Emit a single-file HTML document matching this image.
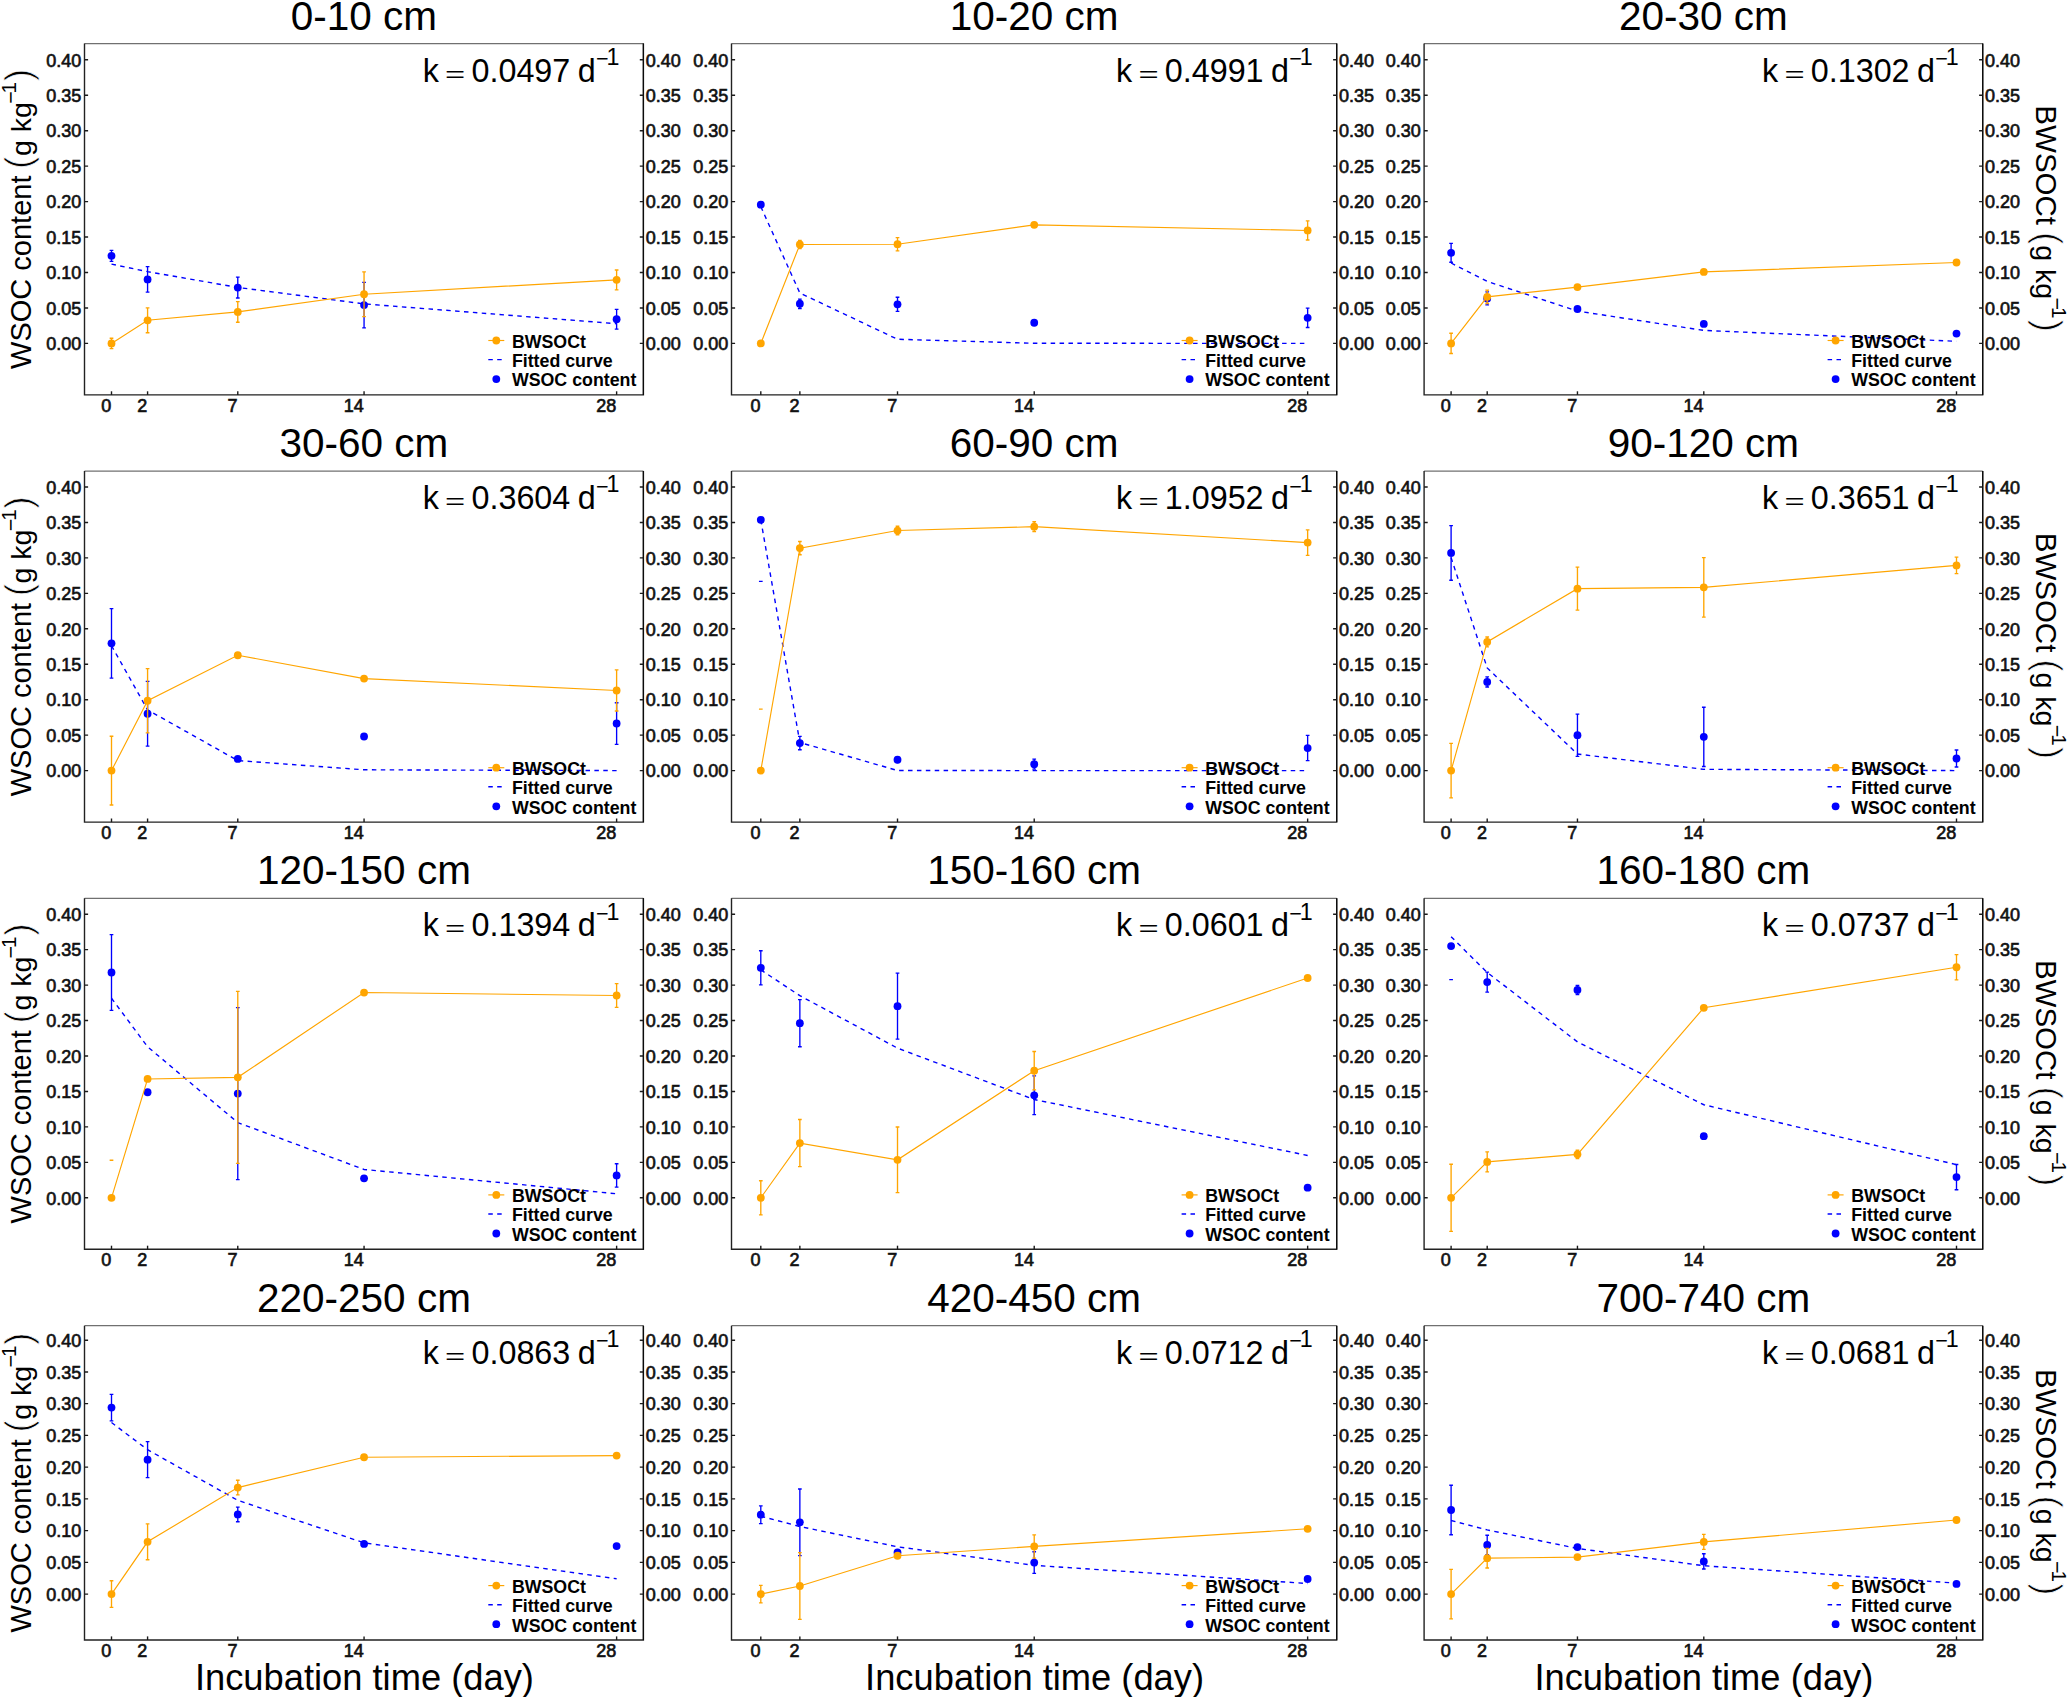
<!DOCTYPE html>
<html><head><meta charset="utf-8"><title>WSOC incubation</title>
<style>
html,body{margin:0;padding:0;background:#fff;}
svg{display:block;}
text{font-family:"Liberation Sans", Arial, sans-serif;fill:#000;}
.ttl{font-size:40.5px;}
.tl{font-size:18px;fill:#111111;stroke:#111111;stroke-width:0.65px;}
.lg{font-size:17.8px;font-weight:bold;}
.kl{font-size:32.3px;}
.ks{font-size:23.3px;}
.km{font-size:21.5px;}
.yt{font-size:29px;}
.yt2{font-size:29.5px;}
.yg{font-size:28.5px;}
.xt{font-size:36.3px;}
.sup{font-size:20.5px;}
.sm{font-size:21.5px;}
.par{font-size:36px;stroke:#fff;stroke-width:0.7px;}
.top{stroke:#707070;stroke-width:1.2;}
.ax{fill:none;stroke:#222;stroke-width:1.4;}
.axr{fill:none;stroke:#0a0a0a;stroke-width:1.2;}
.tk{stroke:#1a1a1a;stroke-width:1.4;fill:none;}
.eb{fill:none;stroke-width:1.35;}
.fit{fill:none;stroke:#0000FF;stroke-width:1.4;stroke-dasharray:4.5 4.4;}
.oln{fill:none;stroke:#FFA500;stroke-width:1.15;}
</style></head>
<body>
<svg width="2067" height="1697" viewBox="0 0 2067 1697">
<defs><clipPath id="cp0"><rect x="84.50" y="43.60" width="558.90" height="351.30"/></clipPath><clipPath id="cp1"><rect x="731.50" y="43.60" width="605.20" height="351.30"/></clipPath><clipPath id="cp2"><rect x="1424.10" y="43.60" width="558.60" height="351.30"/></clipPath><clipPath id="cp3"><rect x="84.50" y="471.10" width="558.90" height="351.00"/></clipPath><clipPath id="cp4"><rect x="731.50" y="471.10" width="605.20" height="351.00"/></clipPath><clipPath id="cp5"><rect x="1424.10" y="471.10" width="558.60" height="351.00"/></clipPath><clipPath id="cp6"><rect x="84.50" y="898.30" width="558.90" height="351.00"/></clipPath><clipPath id="cp7"><rect x="731.50" y="898.30" width="605.20" height="351.00"/></clipPath><clipPath id="cp8"><rect x="1424.10" y="898.30" width="558.60" height="351.00"/></clipPath><clipPath id="cp9"><rect x="84.50" y="1325.70" width="558.90" height="314.30"/></clipPath><clipPath id="cp10"><rect x="731.50" y="1325.70" width="605.20" height="314.30"/></clipPath><clipPath id="cp11"><rect x="1424.10" y="1325.70" width="558.60" height="314.30"/></clipPath></defs>
<rect width="2067" height="1697" fill="#fff"/>
<text x="363.95" y="29.50" class="ttl" text-anchor="middle">0-10 cm</text>
<line x1="84.50" y1="43.60" x2="643.40" y2="43.60" class="top"/>
<path d="M84.50,43.60V394.90H643.40V43.60" class="ax"/>
<path d="M643.40,43.60V394.90" class="axr"/>
<path d="M84.50,343.40h3.6M643.40,343.40h-3.6" class="tk"/>
<text x="81.30" y="350.10" class="tl" text-anchor="end">0.00</text>
<text x="645.80" y="350.10" class="tl">0.00</text>
<path d="M84.50,307.95h3.6M643.40,307.95h-3.6" class="tk"/>
<text x="81.30" y="314.65" class="tl" text-anchor="end">0.05</text>
<text x="645.80" y="314.65" class="tl">0.05</text>
<path d="M84.50,272.50h3.6M643.40,272.50h-3.6" class="tk"/>
<text x="81.30" y="279.20" class="tl" text-anchor="end">0.10</text>
<text x="645.80" y="279.20" class="tl">0.10</text>
<path d="M84.50,237.05h3.6M643.40,237.05h-3.6" class="tk"/>
<text x="81.30" y="243.75" class="tl" text-anchor="end">0.15</text>
<text x="645.80" y="243.75" class="tl">0.15</text>
<path d="M84.50,201.60h3.6M643.40,201.60h-3.6" class="tk"/>
<text x="81.30" y="208.30" class="tl" text-anchor="end">0.20</text>
<text x="645.80" y="208.30" class="tl">0.20</text>
<path d="M84.50,166.15h3.6M643.40,166.15h-3.6" class="tk"/>
<text x="81.30" y="172.85" class="tl" text-anchor="end">0.25</text>
<text x="645.80" y="172.85" class="tl">0.25</text>
<path d="M84.50,130.70h3.6M643.40,130.70h-3.6" class="tk"/>
<text x="81.30" y="137.40" class="tl" text-anchor="end">0.30</text>
<text x="645.80" y="137.40" class="tl">0.30</text>
<path d="M84.50,95.25h3.6M643.40,95.25h-3.6" class="tk"/>
<text x="81.30" y="101.95" class="tl" text-anchor="end">0.35</text>
<text x="645.80" y="101.95" class="tl">0.35</text>
<path d="M84.50,59.80h3.6M643.40,59.80h-3.6" class="tk"/>
<text x="81.30" y="66.50" class="tl" text-anchor="end">0.40</text>
<text x="645.80" y="66.50" class="tl">0.40</text>
<path d="M111.50,394.90v-3.6" class="tk"/>
<text x="111.20" y="411.70" class="tl" text-anchor="end">0</text>
<path d="M147.58,394.90v-3.6" class="tk"/>
<text x="147.28" y="411.70" class="tl" text-anchor="end">2</text>
<path d="M237.78,394.90v-3.6" class="tk"/>
<text x="237.48" y="411.70" class="tl" text-anchor="end">7</text>
<path d="M364.06,394.90v-3.6" class="tk"/>
<text x="363.76" y="411.70" class="tl" text-anchor="end">14</text>
<path d="M616.62,394.90v-3.6" class="tk"/>
<text x="616.32" y="411.70" class="tl" text-anchor="end">28</text>
<text x="422.70" y="81.50" class="kl">k</text>
<text transform="translate(445.10,81.50) scale(1.07,0.71)" class="kl">=</text>
<text x="471.50" y="81.50" class="kl">0.0497</text>
<text x="577.70" y="81.50" class="kl">d</text>
<text x="596.00" y="66.00" class="km">−</text>
<text x="606.50" y="64.80" class="ks">1</text>
<g clip-path="url(#cp0)">
<path d="M109.65,250.38h3.7M111.50,250.38V261.30M109.65,261.30h3.7" stroke="#0000FF" class="eb"/>
<path d="M145.73,266.62h3.7M147.58,266.62V292.14M145.73,292.14h3.7" stroke="#0000FF" class="eb"/>
<path d="M235.93,277.11h3.7M237.78,277.11V297.95M235.93,297.95h3.7" stroke="#0000FF" class="eb"/>
<path d="M362.21,282.43h3.7M364.06,282.43V327.80M362.21,327.80h3.7" stroke="#0000FF" class="eb"/>
<path d="M614.77,309.30h3.7M616.62,309.30V329.15M614.77,329.15h3.7" stroke="#0000FF" class="eb"/>
<circle cx="111.50" cy="255.84" r="3.9" fill="#0000FF"/>
<circle cx="147.58" cy="279.38" r="3.9" fill="#0000FF"/>
<circle cx="237.78" cy="287.53" r="3.9" fill="#0000FF"/>
<circle cx="364.06" cy="305.11" r="3.9" fill="#0000FF"/>
<circle cx="616.62" cy="319.22" r="3.9" fill="#0000FF"/>
<polyline points="111.50,264.13 147.58,271.63 237.78,287.42 364.06,303.87 616.62,323.69" class="fit"/>
<path d="M109.65,338.22h3.7M111.50,338.22V348.58M109.65,348.58h3.7" stroke="#FFA500" class="eb"/>
<path d="M145.73,307.81h3.7M147.58,307.81V332.76M145.73,332.76h3.7" stroke="#FFA500" class="eb"/>
<path d="M235.93,301.64h3.7M237.78,301.64V322.20M235.93,322.20h3.7" stroke="#FFA500" class="eb"/>
<path d="M362.21,271.93h3.7M364.06,271.93V316.60M362.21,316.60h3.7" stroke="#FFA500" class="eb"/>
<path d="M614.77,269.95h3.7M616.62,269.95V289.80M614.77,289.80h3.7" stroke="#FFA500" class="eb"/>
<polyline points="111.50,343.40 147.58,320.29 237.78,311.92 364.06,294.27 616.62,279.87" class="oln"/>
<circle cx="111.50" cy="343.40" r="3.9" fill="#FFA500"/>
<circle cx="147.58" cy="320.29" r="3.9" fill="#FFA500"/>
<circle cx="237.78" cy="311.92" r="3.9" fill="#FFA500"/>
<circle cx="364.06" cy="294.27" r="3.9" fill="#FFA500"/>
<circle cx="616.62" cy="279.87" r="3.9" fill="#FFA500"/>
</g>
<path d="M488.30,340.50h16" stroke="#FFA500" class="oln"/>
<circle cx="496.30" cy="340.50" r="3.9" fill="#FFA500"/>
<path d="M488.30,359.60h16" class="fit"/>
<circle cx="496.30" cy="379.10" r="3.9" fill="#0000FF"/>
<text x="511.90" y="347.60" class="lg">BWSOCt</text>
<text x="511.90" y="366.50" class="lg">Fitted curve</text>
<text x="511.90" y="386.40" class="lg">WSOC content</text>
<text x="1034.10" y="29.50" class="ttl" text-anchor="middle">10-20 cm</text>
<line x1="731.50" y1="43.60" x2="1336.70" y2="43.60" class="top"/>
<path d="M731.50,43.60V394.90H1336.70V43.60" class="ax"/>
<path d="M1336.70,43.60V394.90" class="axr"/>
<path d="M731.50,343.40h3.6M1336.70,343.40h-3.6" class="tk"/>
<text x="728.30" y="350.10" class="tl" text-anchor="end">0.00</text>
<text x="1339.10" y="350.10" class="tl">0.00</text>
<path d="M731.50,307.95h3.6M1336.70,307.95h-3.6" class="tk"/>
<text x="728.30" y="314.65" class="tl" text-anchor="end">0.05</text>
<text x="1339.10" y="314.65" class="tl">0.05</text>
<path d="M731.50,272.50h3.6M1336.70,272.50h-3.6" class="tk"/>
<text x="728.30" y="279.20" class="tl" text-anchor="end">0.10</text>
<text x="1339.10" y="279.20" class="tl">0.10</text>
<path d="M731.50,237.05h3.6M1336.70,237.05h-3.6" class="tk"/>
<text x="728.30" y="243.75" class="tl" text-anchor="end">0.15</text>
<text x="1339.10" y="243.75" class="tl">0.15</text>
<path d="M731.50,201.60h3.6M1336.70,201.60h-3.6" class="tk"/>
<text x="728.30" y="208.30" class="tl" text-anchor="end">0.20</text>
<text x="1339.10" y="208.30" class="tl">0.20</text>
<path d="M731.50,166.15h3.6M1336.70,166.15h-3.6" class="tk"/>
<text x="728.30" y="172.85" class="tl" text-anchor="end">0.25</text>
<text x="1339.10" y="172.85" class="tl">0.25</text>
<path d="M731.50,130.70h3.6M1336.70,130.70h-3.6" class="tk"/>
<text x="728.30" y="137.40" class="tl" text-anchor="end">0.30</text>
<text x="1339.10" y="137.40" class="tl">0.30</text>
<path d="M731.50,95.25h3.6M1336.70,95.25h-3.6" class="tk"/>
<text x="728.30" y="101.95" class="tl" text-anchor="end">0.35</text>
<text x="1339.10" y="101.95" class="tl">0.35</text>
<path d="M731.50,59.80h3.6M1336.70,59.80h-3.6" class="tk"/>
<text x="728.30" y="66.50" class="tl" text-anchor="end">0.40</text>
<text x="1339.10" y="66.50" class="tl">0.40</text>
<path d="M760.80,394.90v-3.6" class="tk"/>
<text x="760.50" y="411.70" class="tl" text-anchor="end">0</text>
<path d="M799.86,394.90v-3.6" class="tk"/>
<text x="799.56" y="411.70" class="tl" text-anchor="end">2</text>
<path d="M897.51,394.90v-3.6" class="tk"/>
<text x="897.21" y="411.70" class="tl" text-anchor="end">7</text>
<path d="M1034.22,394.90v-3.6" class="tk"/>
<text x="1033.92" y="411.70" class="tl" text-anchor="end">14</text>
<path d="M1307.64,394.90v-3.6" class="tk"/>
<text x="1307.34" y="411.70" class="tl" text-anchor="end">28</text>
<text x="1116.00" y="81.50" class="kl">k</text>
<text transform="translate(1138.40,81.50) scale(1.07,0.71)" class="kl">=</text>
<text x="1164.80" y="81.50" class="kl">0.4991</text>
<text x="1271.00" y="81.50" class="kl">d</text>
<text x="1289.30" y="66.00" class="km">−</text>
<text x="1299.80" y="64.80" class="ks">1</text>
<g clip-path="url(#cp1)">
<path d="M758.95,203.23h3.7M760.80,203.23V206.07M758.95,206.07h3.7" stroke="#0000FF" class="eb"/>
<path d="M798.01,299.09h3.7M799.86,299.09V308.45M798.01,308.45h3.7" stroke="#0000FF" class="eb"/>
<path d="M895.66,297.24h3.7M897.51,297.24V311.42M895.66,311.42h3.7" stroke="#0000FF" class="eb"/>
<path d="M1032.37,321.35h3.7M1034.22,321.35V324.19M1032.37,324.19h3.7" stroke="#0000FF" class="eb"/>
<path d="M1305.79,308.16h3.7M1307.64,308.16V327.45M1305.79,327.45h3.7" stroke="#0000FF" class="eb"/>
<circle cx="760.80" cy="204.65" r="3.9" fill="#0000FF"/>
<circle cx="799.86" cy="303.77" r="3.9" fill="#0000FF"/>
<circle cx="897.51" cy="304.33" r="3.9" fill="#0000FF"/>
<circle cx="1034.22" cy="322.77" r="3.9" fill="#0000FF"/>
<circle cx="1307.64" cy="317.81" r="3.9" fill="#0000FF"/>
<polyline points="760.80,206.70 799.86,293.02 897.51,339.25 1034.22,343.27 1307.64,343.40" class="fit"/>
<path d="M798.01,240.52h3.7M799.86,240.52V248.46M798.01,248.46h3.7" stroke="#FFA500" class="eb"/>
<path d="M895.66,237.62h3.7M897.51,237.62V250.80M895.66,250.80h3.7" stroke="#FFA500" class="eb"/>
<path d="M1032.37,223.44h3.7M1034.22,223.44V226.27M1032.37,226.27h3.7" stroke="#FFA500" class="eb"/>
<path d="M1305.79,220.88h3.7M1307.64,220.88V240.03M1305.79,240.03h3.7" stroke="#FFA500" class="eb"/>
<polyline points="760.80,343.40 799.86,244.49 897.51,244.21 1034.22,224.86 1307.64,230.46" class="oln"/>
<circle cx="760.80" cy="343.40" r="3.9" fill="#FFA500"/>
<circle cx="799.86" cy="244.49" r="3.9" fill="#FFA500"/>
<circle cx="897.51" cy="244.21" r="3.9" fill="#FFA500"/>
<circle cx="1034.22" cy="224.86" r="3.9" fill="#FFA500"/>
<circle cx="1307.64" cy="230.46" r="3.9" fill="#FFA500"/>
</g>
<path d="M1181.60,340.50h16" stroke="#FFA500" class="oln"/>
<circle cx="1189.60" cy="340.50" r="3.9" fill="#FFA500"/>
<path d="M1181.60,359.60h16" class="fit"/>
<circle cx="1189.60" cy="379.10" r="3.9" fill="#0000FF"/>
<text x="1205.20" y="347.60" class="lg">BWSOCt</text>
<text x="1205.20" y="366.50" class="lg">Fitted curve</text>
<text x="1205.20" y="386.40" class="lg">WSOC content</text>
<text x="1703.40" y="29.50" class="ttl" text-anchor="middle">20-30 cm</text>
<line x1="1424.10" y1="43.60" x2="1982.70" y2="43.60" class="top"/>
<path d="M1424.10,43.60V394.90H1982.70V43.60" class="ax"/>
<path d="M1982.70,43.60V394.90" class="axr"/>
<path d="M1424.10,343.40h3.6M1982.70,343.40h-3.6" class="tk"/>
<text x="1420.90" y="350.10" class="tl" text-anchor="end">0.00</text>
<text x="1985.10" y="350.10" class="tl">0.00</text>
<path d="M1424.10,307.95h3.6M1982.70,307.95h-3.6" class="tk"/>
<text x="1420.90" y="314.65" class="tl" text-anchor="end">0.05</text>
<text x="1985.10" y="314.65" class="tl">0.05</text>
<path d="M1424.10,272.50h3.6M1982.70,272.50h-3.6" class="tk"/>
<text x="1420.90" y="279.20" class="tl" text-anchor="end">0.10</text>
<text x="1985.10" y="279.20" class="tl">0.10</text>
<path d="M1424.10,237.05h3.6M1982.70,237.05h-3.6" class="tk"/>
<text x="1420.90" y="243.75" class="tl" text-anchor="end">0.15</text>
<text x="1985.10" y="243.75" class="tl">0.15</text>
<path d="M1424.10,201.60h3.6M1982.70,201.60h-3.6" class="tk"/>
<text x="1420.90" y="208.30" class="tl" text-anchor="end">0.20</text>
<text x="1985.10" y="208.30" class="tl">0.20</text>
<path d="M1424.10,166.15h3.6M1982.70,166.15h-3.6" class="tk"/>
<text x="1420.90" y="172.85" class="tl" text-anchor="end">0.25</text>
<text x="1985.10" y="172.85" class="tl">0.25</text>
<path d="M1424.10,130.70h3.6M1982.70,130.70h-3.6" class="tk"/>
<text x="1420.90" y="137.40" class="tl" text-anchor="end">0.30</text>
<text x="1985.10" y="137.40" class="tl">0.30</text>
<path d="M1424.10,95.25h3.6M1982.70,95.25h-3.6" class="tk"/>
<text x="1420.90" y="101.95" class="tl" text-anchor="end">0.35</text>
<text x="1985.10" y="101.95" class="tl">0.35</text>
<path d="M1424.10,59.80h3.6M1982.70,59.80h-3.6" class="tk"/>
<text x="1420.90" y="66.50" class="tl" text-anchor="end">0.40</text>
<text x="1985.10" y="66.50" class="tl">0.40</text>
<path d="M1451.10,394.90v-3.6" class="tk"/>
<text x="1450.80" y="411.70" class="tl" text-anchor="end">0</text>
<path d="M1487.20,394.90v-3.6" class="tk"/>
<text x="1486.90" y="411.70" class="tl" text-anchor="end">2</text>
<path d="M1577.45,394.90v-3.6" class="tk"/>
<text x="1577.15" y="411.70" class="tl" text-anchor="end">7</text>
<path d="M1703.80,394.90v-3.6" class="tk"/>
<text x="1703.50" y="411.70" class="tl" text-anchor="end">14</text>
<path d="M1956.50,394.90v-3.6" class="tk"/>
<text x="1956.20" y="411.70" class="tl" text-anchor="end">28</text>
<text x="1762.00" y="81.50" class="kl">k</text>
<text transform="translate(1784.40,81.50) scale(1.07,0.71)" class="kl">=</text>
<text x="1810.80" y="81.50" class="kl">0.1302</text>
<text x="1917.00" y="81.50" class="kl">d</text>
<text x="1935.30" y="66.00" class="km">−</text>
<text x="1945.80" y="64.80" class="ks">1</text>
<g clip-path="url(#cp2)">
<path d="M1449.25,243.36h3.7M1451.10,243.36V262.22M1449.25,262.22h3.7" stroke="#0000FF" class="eb"/>
<path d="M1485.35,291.86h3.7M1487.20,291.86V304.90M1485.35,304.90h3.7" stroke="#0000FF" class="eb"/>
<path d="M1575.60,307.60h3.7M1577.45,307.60V310.43M1575.60,310.43h3.7" stroke="#0000FF" class="eb"/>
<path d="M1701.95,322.48h3.7M1703.80,322.48V325.32M1701.95,325.32h3.7" stroke="#0000FF" class="eb"/>
<path d="M1954.65,332.20h3.7M1956.50,332.20V335.03M1954.65,335.03h3.7" stroke="#0000FF" class="eb"/>
<circle cx="1451.10" cy="252.79" r="3.9" fill="#0000FF"/>
<circle cx="1487.20" cy="298.38" r="3.9" fill="#0000FF"/>
<circle cx="1577.45" cy="309.01" r="3.9" fill="#0000FF"/>
<circle cx="1703.80" cy="323.90" r="3.9" fill="#0000FF"/>
<circle cx="1956.50" cy="333.62" r="3.9" fill="#0000FF"/>
<polyline points="1451.10,263.00 1487.20,281.43 1577.45,311.08 1703.80,330.41 1956.50,341.30" class="fit"/>
<path d="M1449.25,333.26h3.7M1451.10,333.26V353.54M1449.25,353.54h3.7" stroke="#FFA500" class="eb"/>
<path d="M1485.35,290.15h3.7M1487.20,290.15V303.48M1485.35,303.48h3.7" stroke="#FFA500" class="eb"/>
<path d="M1575.60,285.69h3.7M1577.45,285.69V288.52M1575.60,288.52h3.7" stroke="#FFA500" class="eb"/>
<path d="M1701.95,270.51h3.7M1703.80,270.51V273.35M1701.95,273.35h3.7" stroke="#FFA500" class="eb"/>
<path d="M1954.65,261.09h3.7M1956.50,261.09V263.92M1954.65,263.92h3.7" stroke="#FFA500" class="eb"/>
<polyline points="1451.10,343.40 1487.20,296.82 1577.45,287.11 1703.80,271.93 1956.50,262.50" class="oln"/>
<circle cx="1451.10" cy="343.40" r="3.9" fill="#FFA500"/>
<circle cx="1487.20" cy="296.82" r="3.9" fill="#FFA500"/>
<circle cx="1577.45" cy="287.11" r="3.9" fill="#FFA500"/>
<circle cx="1703.80" cy="271.93" r="3.9" fill="#FFA500"/>
<circle cx="1956.50" cy="262.50" r="3.9" fill="#FFA500"/>
</g>
<path d="M1827.60,340.50h16" stroke="#FFA500" class="oln"/>
<circle cx="1835.60" cy="340.50" r="3.9" fill="#FFA500"/>
<path d="M1827.60,359.60h16" class="fit"/>
<circle cx="1835.60" cy="379.10" r="3.9" fill="#0000FF"/>
<text x="1851.20" y="347.60" class="lg">BWSOCt</text>
<text x="1851.20" y="366.50" class="lg">Fitted curve</text>
<text x="1851.20" y="386.40" class="lg">WSOC content</text>
<text x="363.95" y="457.00" class="ttl" text-anchor="middle">30-60 cm</text>
<line x1="84.50" y1="471.10" x2="643.40" y2="471.10" class="top"/>
<path d="M84.50,471.10V822.10H643.40V471.10" class="ax"/>
<path d="M643.40,471.10V822.10" class="axr"/>
<path d="M84.50,770.60h3.6M643.40,770.60h-3.6" class="tk"/>
<text x="81.30" y="777.30" class="tl" text-anchor="end">0.00</text>
<text x="645.80" y="777.30" class="tl">0.00</text>
<path d="M84.50,735.15h3.6M643.40,735.15h-3.6" class="tk"/>
<text x="81.30" y="741.85" class="tl" text-anchor="end">0.05</text>
<text x="645.80" y="741.85" class="tl">0.05</text>
<path d="M84.50,699.70h3.6M643.40,699.70h-3.6" class="tk"/>
<text x="81.30" y="706.40" class="tl" text-anchor="end">0.10</text>
<text x="645.80" y="706.40" class="tl">0.10</text>
<path d="M84.50,664.25h3.6M643.40,664.25h-3.6" class="tk"/>
<text x="81.30" y="670.95" class="tl" text-anchor="end">0.15</text>
<text x="645.80" y="670.95" class="tl">0.15</text>
<path d="M84.50,628.80h3.6M643.40,628.80h-3.6" class="tk"/>
<text x="81.30" y="635.50" class="tl" text-anchor="end">0.20</text>
<text x="645.80" y="635.50" class="tl">0.20</text>
<path d="M84.50,593.35h3.6M643.40,593.35h-3.6" class="tk"/>
<text x="81.30" y="600.05" class="tl" text-anchor="end">0.25</text>
<text x="645.80" y="600.05" class="tl">0.25</text>
<path d="M84.50,557.90h3.6M643.40,557.90h-3.6" class="tk"/>
<text x="81.30" y="564.60" class="tl" text-anchor="end">0.30</text>
<text x="645.80" y="564.60" class="tl">0.30</text>
<path d="M84.50,522.45h3.6M643.40,522.45h-3.6" class="tk"/>
<text x="81.30" y="529.15" class="tl" text-anchor="end">0.35</text>
<text x="645.80" y="529.15" class="tl">0.35</text>
<path d="M84.50,487.00h3.6M643.40,487.00h-3.6" class="tk"/>
<text x="81.30" y="493.70" class="tl" text-anchor="end">0.40</text>
<text x="645.80" y="493.70" class="tl">0.40</text>
<path d="M111.50,822.10v-3.6" class="tk"/>
<text x="111.20" y="838.90" class="tl" text-anchor="end">0</text>
<path d="M147.58,822.10v-3.6" class="tk"/>
<text x="147.28" y="838.90" class="tl" text-anchor="end">2</text>
<path d="M237.78,822.10v-3.6" class="tk"/>
<text x="237.48" y="838.90" class="tl" text-anchor="end">7</text>
<path d="M364.06,822.10v-3.6" class="tk"/>
<text x="363.76" y="838.90" class="tl" text-anchor="end">14</text>
<path d="M616.62,822.10v-3.6" class="tk"/>
<text x="616.32" y="838.90" class="tl" text-anchor="end">28</text>
<text x="422.70" y="509.00" class="kl">k</text>
<text transform="translate(445.10,509.00) scale(1.07,0.71)" class="kl">=</text>
<text x="471.50" y="509.00" class="kl">0.3604</text>
<text x="577.70" y="509.00" class="kl">d</text>
<text x="596.00" y="493.50" class="km">−</text>
<text x="606.50" y="492.30" class="ks">1</text>
<g clip-path="url(#cp3)">
<path d="M109.65,608.59h3.7M111.50,608.59V678.08M109.65,678.08h3.7" stroke="#0000FF" class="eb"/>
<path d="M145.73,681.34h3.7M147.58,681.34V746.14M145.73,746.14h3.7" stroke="#0000FF" class="eb"/>
<path d="M235.93,757.55h3.7M237.78,757.55V760.39M235.93,760.39h3.7" stroke="#0000FF" class="eb"/>
<path d="M362.21,735.08h3.7M364.06,735.08V737.92M362.21,737.92h3.7" stroke="#0000FF" class="eb"/>
<path d="M614.77,702.75h3.7M616.62,702.75V744.30M614.77,744.30h3.7" stroke="#0000FF" class="eb"/>
<circle cx="111.50" cy="643.33" r="3.9" fill="#0000FF"/>
<circle cx="147.58" cy="713.74" r="3.9" fill="#0000FF"/>
<circle cx="237.78" cy="758.97" r="3.9" fill="#0000FF"/>
<circle cx="364.06" cy="736.50" r="3.9" fill="#0000FF"/>
<circle cx="616.62" cy="723.52" r="3.9" fill="#0000FF"/>
<polyline points="111.50,645.75 147.58,709.88 237.78,760.58 364.06,769.80 616.62,770.59" class="fit"/>
<path d="M109.65,736.21h3.7M111.50,736.21V804.99M109.65,804.99h3.7" stroke="#FFA500" class="eb"/>
<path d="M145.73,668.65h3.7M147.58,668.65V732.88M145.73,732.88h3.7" stroke="#FFA500" class="eb"/>
<path d="M235.93,653.83h3.7M237.78,653.83V656.66M235.93,656.66h3.7" stroke="#FFA500" class="eb"/>
<path d="M362.21,677.15h3.7M364.06,677.15V679.99M362.21,679.99h3.7" stroke="#FFA500" class="eb"/>
<path d="M614.77,669.92h3.7M616.62,669.92V711.04M614.77,711.04h3.7" stroke="#FFA500" class="eb"/>
<polyline points="111.50,770.60 147.58,700.76 237.78,655.25 364.06,678.57 616.62,690.48" class="oln"/>
<circle cx="111.50" cy="770.60" r="3.9" fill="#FFA500"/>
<circle cx="147.58" cy="700.76" r="3.9" fill="#FFA500"/>
<circle cx="237.78" cy="655.25" r="3.9" fill="#FFA500"/>
<circle cx="364.06" cy="678.57" r="3.9" fill="#FFA500"/>
<circle cx="616.62" cy="690.48" r="3.9" fill="#FFA500"/>
</g>
<path d="M488.30,767.70h16" stroke="#FFA500" class="oln"/>
<circle cx="496.30" cy="767.70" r="3.9" fill="#FFA500"/>
<path d="M488.30,786.80h16" class="fit"/>
<circle cx="496.30" cy="806.30" r="3.9" fill="#0000FF"/>
<text x="511.90" y="774.80" class="lg">BWSOCt</text>
<text x="511.90" y="793.70" class="lg">Fitted curve</text>
<text x="511.90" y="813.60" class="lg">WSOC content</text>
<text x="1034.10" y="457.00" class="ttl" text-anchor="middle">60-90 cm</text>
<line x1="731.50" y1="471.10" x2="1336.70" y2="471.10" class="top"/>
<path d="M731.50,471.10V822.10H1336.70V471.10" class="ax"/>
<path d="M1336.70,471.10V822.10" class="axr"/>
<path d="M731.50,770.60h3.6M1336.70,770.60h-3.6" class="tk"/>
<text x="728.30" y="777.30" class="tl" text-anchor="end">0.00</text>
<text x="1339.10" y="777.30" class="tl">0.00</text>
<path d="M731.50,735.15h3.6M1336.70,735.15h-3.6" class="tk"/>
<text x="728.30" y="741.85" class="tl" text-anchor="end">0.05</text>
<text x="1339.10" y="741.85" class="tl">0.05</text>
<path d="M731.50,699.70h3.6M1336.70,699.70h-3.6" class="tk"/>
<text x="728.30" y="706.40" class="tl" text-anchor="end">0.10</text>
<text x="1339.10" y="706.40" class="tl">0.10</text>
<path d="M731.50,664.25h3.6M1336.70,664.25h-3.6" class="tk"/>
<text x="728.30" y="670.95" class="tl" text-anchor="end">0.15</text>
<text x="1339.10" y="670.95" class="tl">0.15</text>
<path d="M731.50,628.80h3.6M1336.70,628.80h-3.6" class="tk"/>
<text x="728.30" y="635.50" class="tl" text-anchor="end">0.20</text>
<text x="1339.10" y="635.50" class="tl">0.20</text>
<path d="M731.50,593.35h3.6M1336.70,593.35h-3.6" class="tk"/>
<text x="728.30" y="600.05" class="tl" text-anchor="end">0.25</text>
<text x="1339.10" y="600.05" class="tl">0.25</text>
<path d="M731.50,557.90h3.6M1336.70,557.90h-3.6" class="tk"/>
<text x="728.30" y="564.60" class="tl" text-anchor="end">0.30</text>
<text x="1339.10" y="564.60" class="tl">0.30</text>
<path d="M731.50,522.45h3.6M1336.70,522.45h-3.6" class="tk"/>
<text x="728.30" y="529.15" class="tl" text-anchor="end">0.35</text>
<text x="1339.10" y="529.15" class="tl">0.35</text>
<path d="M731.50,487.00h3.6M1336.70,487.00h-3.6" class="tk"/>
<text x="728.30" y="493.70" class="tl" text-anchor="end">0.40</text>
<text x="1339.10" y="493.70" class="tl">0.40</text>
<path d="M760.80,822.10v-3.6" class="tk"/>
<text x="760.50" y="838.90" class="tl" text-anchor="end">0</text>
<path d="M799.86,822.10v-3.6" class="tk"/>
<text x="799.56" y="838.90" class="tl" text-anchor="end">2</text>
<path d="M897.51,822.10v-3.6" class="tk"/>
<text x="897.21" y="838.90" class="tl" text-anchor="end">7</text>
<path d="M1034.22,822.10v-3.6" class="tk"/>
<text x="1033.92" y="838.90" class="tl" text-anchor="end">14</text>
<path d="M1307.64,822.10v-3.6" class="tk"/>
<text x="1307.34" y="838.90" class="tl" text-anchor="end">28</text>
<text x="1116.00" y="509.00" class="kl">k</text>
<text transform="translate(1138.40,509.00) scale(1.07,0.71)" class="kl">=</text>
<text x="1164.80" y="509.00" class="kl">1.0952</text>
<text x="1271.00" y="509.00" class="kl">d</text>
<text x="1289.30" y="493.50" class="km">−</text>
<text x="1299.80" y="492.30" class="ks">1</text>
<g clip-path="url(#cp4)">
<path d="M758.95,518.41h3.7M760.80,518.41V521.24M758.95,521.24h3.7" stroke="#0000FF" class="eb"/>
<path d="M798.01,736.43h3.7M799.86,736.43V749.76M798.01,749.76h3.7" stroke="#0000FF" class="eb"/>
<path d="M895.66,756.92h3.7M897.51,756.92V762.59M895.66,762.59h3.7" stroke="#0000FF" class="eb"/>
<path d="M1032.37,759.19h3.7M1034.22,759.19V769.11M1032.37,769.11h3.7" stroke="#0000FF" class="eb"/>
<path d="M1305.79,735.43h3.7M1307.64,735.43V760.67M1305.79,760.67h3.7" stroke="#0000FF" class="eb"/>
<path d="M758.95,581.44h3.7" stroke="#0000FF" class="eb"/>
<circle cx="760.80" cy="519.83" r="3.9" fill="#0000FF"/>
<circle cx="799.86" cy="743.09" r="3.9" fill="#0000FF"/>
<circle cx="897.51" cy="759.75" r="3.9" fill="#0000FF"/>
<circle cx="1034.22" cy="764.15" r="3.9" fill="#0000FF"/>
<circle cx="1307.64" cy="748.05" r="3.9" fill="#0000FF"/>
<polyline points="760.80,519.83 799.86,742.55 897.51,770.48 1034.22,770.60 1307.64,770.60" class="fit"/>
<path d="M798.01,541.52h3.7M799.86,541.52V554.71M798.01,554.71h3.7" stroke="#FFA500" class="eb"/>
<path d="M895.66,526.28h3.7M897.51,526.28V534.79M895.66,534.79h3.7" stroke="#FFA500" class="eb"/>
<path d="M1032.37,521.74h3.7M1034.22,521.74V531.67M1032.37,531.67h3.7" stroke="#FFA500" class="eb"/>
<path d="M1305.79,529.82h3.7M1307.64,529.82V555.35M1305.79,555.35h3.7" stroke="#FFA500" class="eb"/>
<path d="M758.95,709.06h3.7" stroke="#FFA500" class="eb"/>
<polyline points="760.80,770.60 799.86,548.12 897.51,530.53 1034.22,526.70 1307.64,542.59" class="oln"/>
<circle cx="760.80" cy="770.60" r="3.9" fill="#FFA500"/>
<circle cx="799.86" cy="548.12" r="3.9" fill="#FFA500"/>
<circle cx="897.51" cy="530.53" r="3.9" fill="#FFA500"/>
<circle cx="1034.22" cy="526.70" r="3.9" fill="#FFA500"/>
<circle cx="1307.64" cy="542.59" r="3.9" fill="#FFA500"/>
</g>
<path d="M1181.60,767.70h16" stroke="#FFA500" class="oln"/>
<circle cx="1189.60" cy="767.70" r="3.9" fill="#FFA500"/>
<path d="M1181.60,786.80h16" class="fit"/>
<circle cx="1189.60" cy="806.30" r="3.9" fill="#0000FF"/>
<text x="1205.20" y="774.80" class="lg">BWSOCt</text>
<text x="1205.20" y="793.70" class="lg">Fitted curve</text>
<text x="1205.20" y="813.60" class="lg">WSOC content</text>
<text x="1703.40" y="457.00" class="ttl" text-anchor="middle">90-120 cm</text>
<line x1="1424.10" y1="471.10" x2="1982.70" y2="471.10" class="top"/>
<path d="M1424.10,471.10V822.10H1982.70V471.10" class="ax"/>
<path d="M1982.70,471.10V822.10" class="axr"/>
<path d="M1424.10,770.60h3.6M1982.70,770.60h-3.6" class="tk"/>
<text x="1420.90" y="777.30" class="tl" text-anchor="end">0.00</text>
<text x="1985.10" y="777.30" class="tl">0.00</text>
<path d="M1424.10,735.15h3.6M1982.70,735.15h-3.6" class="tk"/>
<text x="1420.90" y="741.85" class="tl" text-anchor="end">0.05</text>
<text x="1985.10" y="741.85" class="tl">0.05</text>
<path d="M1424.10,699.70h3.6M1982.70,699.70h-3.6" class="tk"/>
<text x="1420.90" y="706.40" class="tl" text-anchor="end">0.10</text>
<text x="1985.10" y="706.40" class="tl">0.10</text>
<path d="M1424.10,664.25h3.6M1982.70,664.25h-3.6" class="tk"/>
<text x="1420.90" y="670.95" class="tl" text-anchor="end">0.15</text>
<text x="1985.10" y="670.95" class="tl">0.15</text>
<path d="M1424.10,628.80h3.6M1982.70,628.80h-3.6" class="tk"/>
<text x="1420.90" y="635.50" class="tl" text-anchor="end">0.20</text>
<text x="1985.10" y="635.50" class="tl">0.20</text>
<path d="M1424.10,593.35h3.6M1982.70,593.35h-3.6" class="tk"/>
<text x="1420.90" y="600.05" class="tl" text-anchor="end">0.25</text>
<text x="1985.10" y="600.05" class="tl">0.25</text>
<path d="M1424.10,557.90h3.6M1982.70,557.90h-3.6" class="tk"/>
<text x="1420.90" y="564.60" class="tl" text-anchor="end">0.30</text>
<text x="1985.10" y="564.60" class="tl">0.30</text>
<path d="M1424.10,522.45h3.6M1982.70,522.45h-3.6" class="tk"/>
<text x="1420.90" y="529.15" class="tl" text-anchor="end">0.35</text>
<text x="1985.10" y="529.15" class="tl">0.35</text>
<path d="M1424.10,487.00h3.6M1982.70,487.00h-3.6" class="tk"/>
<text x="1420.90" y="493.70" class="tl" text-anchor="end">0.40</text>
<text x="1985.10" y="493.70" class="tl">0.40</text>
<path d="M1451.10,822.10v-3.6" class="tk"/>
<text x="1450.80" y="838.90" class="tl" text-anchor="end">0</text>
<path d="M1487.20,822.10v-3.6" class="tk"/>
<text x="1486.90" y="838.90" class="tl" text-anchor="end">2</text>
<path d="M1577.45,822.10v-3.6" class="tk"/>
<text x="1577.15" y="838.90" class="tl" text-anchor="end">7</text>
<path d="M1703.80,822.10v-3.6" class="tk"/>
<text x="1703.50" y="838.90" class="tl" text-anchor="end">14</text>
<path d="M1956.50,822.10v-3.6" class="tk"/>
<text x="1956.20" y="838.90" class="tl" text-anchor="end">28</text>
<text x="1762.00" y="509.00" class="kl">k</text>
<text transform="translate(1784.40,509.00) scale(1.07,0.71)" class="kl">=</text>
<text x="1810.80" y="509.00" class="kl">0.3651</text>
<text x="1917.00" y="509.00" class="kl">d</text>
<text x="1935.30" y="493.50" class="km">−</text>
<text x="1945.80" y="492.30" class="ks">1</text>
<g clip-path="url(#cp5)">
<path d="M1449.25,525.64h3.7M1451.10,525.64V580.23M1449.25,580.23h3.7" stroke="#0000FF" class="eb"/>
<path d="M1485.35,676.80h3.7M1487.20,676.80V687.01M1485.35,687.01h3.7" stroke="#0000FF" class="eb"/>
<path d="M1575.60,714.09h3.7M1577.45,714.09V756.35M1575.60,756.35h3.7" stroke="#0000FF" class="eb"/>
<path d="M1701.95,707.22h3.7M1703.80,707.22V766.49M1701.95,766.49h3.7" stroke="#0000FF" class="eb"/>
<path d="M1954.65,749.97h3.7M1956.50,749.97V766.98M1954.65,766.98h3.7" stroke="#0000FF" class="eb"/>
<circle cx="1451.10" cy="552.94" r="3.9" fill="#0000FF"/>
<circle cx="1487.20" cy="681.90" r="3.9" fill="#0000FF"/>
<circle cx="1577.45" cy="735.22" r="3.9" fill="#0000FF"/>
<circle cx="1703.80" cy="736.85" r="3.9" fill="#0000FF"/>
<circle cx="1956.50" cy="758.48" r="3.9" fill="#0000FF"/>
<polyline points="1451.10,557.62 1487.20,667.98 1577.45,754.06 1703.80,769.32 1956.50,770.59" class="fit"/>
<path d="M1449.25,743.30h3.7M1451.10,743.30V797.90M1449.25,797.90h3.7" stroke="#FFA500" class="eb"/>
<path d="M1485.35,636.95h3.7M1487.20,636.95V646.88M1485.35,646.88h3.7" stroke="#FFA500" class="eb"/>
<path d="M1575.60,567.19h3.7M1577.45,567.19V610.15M1575.60,610.15h3.7" stroke="#FFA500" class="eb"/>
<path d="M1701.95,557.55h3.7M1703.80,557.55V617.10M1701.95,617.10h3.7" stroke="#FFA500" class="eb"/>
<path d="M1954.65,557.19h3.7M1956.50,557.19V573.64M1954.65,573.64h3.7" stroke="#FFA500" class="eb"/>
<polyline points="1451.10,770.60 1487.20,641.92 1577.45,588.67 1703.80,587.32 1956.50,565.42" class="oln"/>
<circle cx="1451.10" cy="770.60" r="3.9" fill="#FFA500"/>
<circle cx="1487.20" cy="641.92" r="3.9" fill="#FFA500"/>
<circle cx="1577.45" cy="588.67" r="3.9" fill="#FFA500"/>
<circle cx="1703.80" cy="587.32" r="3.9" fill="#FFA500"/>
<circle cx="1956.50" cy="565.42" r="3.9" fill="#FFA500"/>
</g>
<path d="M1827.60,767.70h16" stroke="#FFA500" class="oln"/>
<circle cx="1835.60" cy="767.70" r="3.9" fill="#FFA500"/>
<path d="M1827.60,786.80h16" class="fit"/>
<circle cx="1835.60" cy="806.30" r="3.9" fill="#0000FF"/>
<text x="1851.20" y="774.80" class="lg">BWSOCt</text>
<text x="1851.20" y="793.70" class="lg">Fitted curve</text>
<text x="1851.20" y="813.60" class="lg">WSOC content</text>
<text x="363.95" y="884.20" class="ttl" text-anchor="middle">120-150 cm</text>
<line x1="84.50" y1="898.30" x2="643.40" y2="898.30" class="top"/>
<path d="M84.50,898.30V1249.30H643.40V898.30" class="ax"/>
<path d="M643.40,898.30V1249.30" class="axr"/>
<path d="M84.50,1197.80h3.6M643.40,1197.80h-3.6" class="tk"/>
<text x="81.30" y="1204.50" class="tl" text-anchor="end">0.00</text>
<text x="645.80" y="1204.50" class="tl">0.00</text>
<path d="M84.50,1162.35h3.6M643.40,1162.35h-3.6" class="tk"/>
<text x="81.30" y="1169.05" class="tl" text-anchor="end">0.05</text>
<text x="645.80" y="1169.05" class="tl">0.05</text>
<path d="M84.50,1126.90h3.6M643.40,1126.90h-3.6" class="tk"/>
<text x="81.30" y="1133.60" class="tl" text-anchor="end">0.10</text>
<text x="645.80" y="1133.60" class="tl">0.10</text>
<path d="M84.50,1091.45h3.6M643.40,1091.45h-3.6" class="tk"/>
<text x="81.30" y="1098.15" class="tl" text-anchor="end">0.15</text>
<text x="645.80" y="1098.15" class="tl">0.15</text>
<path d="M84.50,1056.00h3.6M643.40,1056.00h-3.6" class="tk"/>
<text x="81.30" y="1062.70" class="tl" text-anchor="end">0.20</text>
<text x="645.80" y="1062.70" class="tl">0.20</text>
<path d="M84.50,1020.55h3.6M643.40,1020.55h-3.6" class="tk"/>
<text x="81.30" y="1027.25" class="tl" text-anchor="end">0.25</text>
<text x="645.80" y="1027.25" class="tl">0.25</text>
<path d="M84.50,985.10h3.6M643.40,985.10h-3.6" class="tk"/>
<text x="81.30" y="991.80" class="tl" text-anchor="end">0.30</text>
<text x="645.80" y="991.80" class="tl">0.30</text>
<path d="M84.50,949.65h3.6M643.40,949.65h-3.6" class="tk"/>
<text x="81.30" y="956.35" class="tl" text-anchor="end">0.35</text>
<text x="645.80" y="956.35" class="tl">0.35</text>
<path d="M84.50,914.20h3.6M643.40,914.20h-3.6" class="tk"/>
<text x="81.30" y="920.90" class="tl" text-anchor="end">0.40</text>
<text x="645.80" y="920.90" class="tl">0.40</text>
<path d="M111.50,1249.30v-3.6" class="tk"/>
<text x="111.20" y="1266.10" class="tl" text-anchor="end">0</text>
<path d="M147.58,1249.30v-3.6" class="tk"/>
<text x="147.28" y="1266.10" class="tl" text-anchor="end">2</text>
<path d="M237.78,1249.30v-3.6" class="tk"/>
<text x="237.48" y="1266.10" class="tl" text-anchor="end">7</text>
<path d="M364.06,1249.30v-3.6" class="tk"/>
<text x="363.76" y="1266.10" class="tl" text-anchor="end">14</text>
<path d="M616.62,1249.30v-3.6" class="tk"/>
<text x="616.32" y="1266.10" class="tl" text-anchor="end">28</text>
<text x="422.70" y="936.20" class="kl">k</text>
<text transform="translate(445.10,936.20) scale(1.07,0.71)" class="kl">=</text>
<text x="471.50" y="936.20" class="kl">0.1394</text>
<text x="577.70" y="936.20" class="kl">d</text>
<text x="596.00" y="920.70" class="km">−</text>
<text x="606.50" y="919.50" class="ks">1</text>
<g clip-path="url(#cp6)">
<path d="M109.65,934.55h3.7M111.50,934.55V1010.41M109.65,1010.41h3.7" stroke="#0000FF" class="eb"/>
<path d="M145.73,1090.81h3.7M147.58,1090.81V1093.65M145.73,1093.65h3.7" stroke="#0000FF" class="eb"/>
<path d="M235.93,1007.58h3.7M237.78,1007.58V1179.58M235.93,1179.58h3.7" stroke="#0000FF" class="eb"/>
<path d="M362.21,1176.96h3.7M364.06,1176.96V1179.79M362.21,1179.79h3.7" stroke="#0000FF" class="eb"/>
<path d="M614.77,1163.70h3.7M616.62,1163.70V1187.09M614.77,1187.09h3.7" stroke="#0000FF" class="eb"/>
<circle cx="111.50" cy="972.48" r="3.9" fill="#0000FF"/>
<circle cx="147.58" cy="1092.23" r="3.9" fill="#0000FF"/>
<circle cx="237.78" cy="1093.58" r="3.9" fill="#0000FF"/>
<circle cx="364.06" cy="1178.37" r="3.9" fill="#0000FF"/>
<circle cx="616.62" cy="1175.40" r="3.9" fill="#0000FF"/>
<polyline points="111.50,998.22 147.58,1046.78 237.78,1122.58 364.06,1169.45 616.62,1193.77" class="fit"/>
<path d="M145.73,1076.84h3.7M147.58,1076.84V1081.10M145.73,1081.10h3.7" stroke="#FFA500" class="eb"/>
<path d="M235.93,991.34h3.7M237.78,991.34V1163.34M235.93,1163.34h3.7" stroke="#FFA500" class="eb"/>
<path d="M362.21,991.13h3.7M364.06,991.13V993.96M362.21,993.96h3.7" stroke="#FFA500" class="eb"/>
<path d="M614.77,983.68h3.7M616.62,983.68V1007.36M614.77,1007.36h3.7" stroke="#FFA500" class="eb"/>
<path d="M109.65,1160.22h3.7" stroke="#FFA500" class="eb"/>
<polyline points="111.50,1197.80 147.58,1078.97 237.78,1077.34 364.06,992.54 616.62,995.52" class="oln"/>
<circle cx="111.50" cy="1197.80" r="3.9" fill="#FFA500"/>
<circle cx="147.58" cy="1078.97" r="3.9" fill="#FFA500"/>
<circle cx="237.78" cy="1077.34" r="3.9" fill="#FFA500"/>
<circle cx="364.06" cy="992.54" r="3.9" fill="#FFA500"/>
<circle cx="616.62" cy="995.52" r="3.9" fill="#FFA500"/>
</g>
<path d="M488.30,1194.90h16" stroke="#FFA500" class="oln"/>
<circle cx="496.30" cy="1194.90" r="3.9" fill="#FFA500"/>
<path d="M488.30,1214.00h16" class="fit"/>
<circle cx="496.30" cy="1233.50" r="3.9" fill="#0000FF"/>
<text x="511.90" y="1202.00" class="lg">BWSOCt</text>
<text x="511.90" y="1220.90" class="lg">Fitted curve</text>
<text x="511.90" y="1240.80" class="lg">WSOC content</text>
<text x="1034.10" y="884.20" class="ttl" text-anchor="middle">150-160 cm</text>
<line x1="731.50" y1="898.30" x2="1336.70" y2="898.30" class="top"/>
<path d="M731.50,898.30V1249.30H1336.70V898.30" class="ax"/>
<path d="M1336.70,898.30V1249.30" class="axr"/>
<path d="M731.50,1197.80h3.6M1336.70,1197.80h-3.6" class="tk"/>
<text x="728.30" y="1204.50" class="tl" text-anchor="end">0.00</text>
<text x="1339.10" y="1204.50" class="tl">0.00</text>
<path d="M731.50,1162.35h3.6M1336.70,1162.35h-3.6" class="tk"/>
<text x="728.30" y="1169.05" class="tl" text-anchor="end">0.05</text>
<text x="1339.10" y="1169.05" class="tl">0.05</text>
<path d="M731.50,1126.90h3.6M1336.70,1126.90h-3.6" class="tk"/>
<text x="728.30" y="1133.60" class="tl" text-anchor="end">0.10</text>
<text x="1339.10" y="1133.60" class="tl">0.10</text>
<path d="M731.50,1091.45h3.6M1336.70,1091.45h-3.6" class="tk"/>
<text x="728.30" y="1098.15" class="tl" text-anchor="end">0.15</text>
<text x="1339.10" y="1098.15" class="tl">0.15</text>
<path d="M731.50,1056.00h3.6M1336.70,1056.00h-3.6" class="tk"/>
<text x="728.30" y="1062.70" class="tl" text-anchor="end">0.20</text>
<text x="1339.10" y="1062.70" class="tl">0.20</text>
<path d="M731.50,1020.55h3.6M1336.70,1020.55h-3.6" class="tk"/>
<text x="728.30" y="1027.25" class="tl" text-anchor="end">0.25</text>
<text x="1339.10" y="1027.25" class="tl">0.25</text>
<path d="M731.50,985.10h3.6M1336.70,985.10h-3.6" class="tk"/>
<text x="728.30" y="991.80" class="tl" text-anchor="end">0.30</text>
<text x="1339.10" y="991.80" class="tl">0.30</text>
<path d="M731.50,949.65h3.6M1336.70,949.65h-3.6" class="tk"/>
<text x="728.30" y="956.35" class="tl" text-anchor="end">0.35</text>
<text x="1339.10" y="956.35" class="tl">0.35</text>
<path d="M731.50,914.20h3.6M1336.70,914.20h-3.6" class="tk"/>
<text x="728.30" y="920.90" class="tl" text-anchor="end">0.40</text>
<text x="1339.10" y="920.90" class="tl">0.40</text>
<path d="M760.80,1249.30v-3.6" class="tk"/>
<text x="760.50" y="1266.10" class="tl" text-anchor="end">0</text>
<path d="M799.86,1249.30v-3.6" class="tk"/>
<text x="799.56" y="1266.10" class="tl" text-anchor="end">2</text>
<path d="M897.51,1249.30v-3.6" class="tk"/>
<text x="897.21" y="1266.10" class="tl" text-anchor="end">7</text>
<path d="M1034.22,1249.30v-3.6" class="tk"/>
<text x="1033.92" y="1266.10" class="tl" text-anchor="end">14</text>
<path d="M1307.64,1249.30v-3.6" class="tk"/>
<text x="1307.34" y="1266.10" class="tl" text-anchor="end">28</text>
<text x="1116.00" y="936.20" class="kl">k</text>
<text transform="translate(1138.40,936.20) scale(1.07,0.71)" class="kl">=</text>
<text x="1164.80" y="936.20" class="kl">0.0601</text>
<text x="1271.00" y="936.20" class="kl">d</text>
<text x="1289.30" y="920.70" class="km">−</text>
<text x="1299.80" y="919.50" class="ks">1</text>
<g clip-path="url(#cp7)">
<path d="M758.95,950.78h3.7M760.80,950.78V984.82M758.95,984.82h3.7" stroke="#0000FF" class="eb"/>
<path d="M798.01,999.56h3.7M799.86,999.56V1046.78M798.01,1046.78h3.7" stroke="#0000FF" class="eb"/>
<path d="M895.66,973.19h3.7M897.51,973.19V1039.13M895.66,1039.13h3.7" stroke="#0000FF" class="eb"/>
<path d="M1032.37,1075.92h3.7M1034.22,1075.92V1114.63M1032.37,1114.63h3.7" stroke="#0000FF" class="eb"/>
<path d="M1305.79,1186.24h3.7M1307.64,1186.24V1189.08M1305.79,1189.08h3.7" stroke="#0000FF" class="eb"/>
<circle cx="760.80" cy="967.80" r="3.9" fill="#0000FF"/>
<circle cx="799.86" cy="1023.17" r="3.9" fill="#0000FF"/>
<circle cx="897.51" cy="1006.16" r="3.9" fill="#0000FF"/>
<circle cx="1034.22" cy="1095.28" r="3.9" fill="#0000FF"/>
<circle cx="1307.64" cy="1187.66" r="3.9" fill="#0000FF"/>
<polyline points="760.80,969.86 799.86,995.67 897.51,1048.14 1034.22,1099.53 1307.64,1155.44" class="fit"/>
<path d="M758.95,1180.78h3.7M760.80,1180.78V1214.82M758.95,1214.82h3.7" stroke="#FFA500" class="eb"/>
<path d="M798.01,1119.46h3.7M799.86,1119.46V1166.67M798.01,1166.67h3.7" stroke="#FFA500" class="eb"/>
<path d="M895.66,1126.97h3.7M897.51,1126.97V1192.62M895.66,1192.62h3.7" stroke="#FFA500" class="eb"/>
<path d="M1032.37,1051.46h3.7M1034.22,1051.46V1089.89M1032.37,1089.89h3.7" stroke="#FFA500" class="eb"/>
<path d="M1305.79,975.88h3.7M1307.64,975.88V980.14M1305.79,980.14h3.7" stroke="#FFA500" class="eb"/>
<polyline points="760.80,1197.80 799.86,1143.07 897.51,1159.80 1034.22,1070.68 1307.64,978.01" class="oln"/>
<circle cx="760.80" cy="1197.80" r="3.9" fill="#FFA500"/>
<circle cx="799.86" cy="1143.07" r="3.9" fill="#FFA500"/>
<circle cx="897.51" cy="1159.80" r="3.9" fill="#FFA500"/>
<circle cx="1034.22" cy="1070.68" r="3.9" fill="#FFA500"/>
<circle cx="1307.64" cy="978.01" r="3.9" fill="#FFA500"/>
</g>
<path d="M1181.60,1194.90h16" stroke="#FFA500" class="oln"/>
<circle cx="1189.60" cy="1194.90" r="3.9" fill="#FFA500"/>
<path d="M1181.60,1214.00h16" class="fit"/>
<circle cx="1189.60" cy="1233.50" r="3.9" fill="#0000FF"/>
<text x="1205.20" y="1202.00" class="lg">BWSOCt</text>
<text x="1205.20" y="1220.90" class="lg">Fitted curve</text>
<text x="1205.20" y="1240.80" class="lg">WSOC content</text>
<text x="1703.40" y="884.20" class="ttl" text-anchor="middle">160-180 cm</text>
<line x1="1424.10" y1="898.30" x2="1982.70" y2="898.30" class="top"/>
<path d="M1424.10,898.30V1249.30H1982.70V898.30" class="ax"/>
<path d="M1982.70,898.30V1249.30" class="axr"/>
<path d="M1424.10,1197.80h3.6M1982.70,1197.80h-3.6" class="tk"/>
<text x="1420.90" y="1204.50" class="tl" text-anchor="end">0.00</text>
<text x="1985.10" y="1204.50" class="tl">0.00</text>
<path d="M1424.10,1162.35h3.6M1982.70,1162.35h-3.6" class="tk"/>
<text x="1420.90" y="1169.05" class="tl" text-anchor="end">0.05</text>
<text x="1985.10" y="1169.05" class="tl">0.05</text>
<path d="M1424.10,1126.90h3.6M1982.70,1126.90h-3.6" class="tk"/>
<text x="1420.90" y="1133.60" class="tl" text-anchor="end">0.10</text>
<text x="1985.10" y="1133.60" class="tl">0.10</text>
<path d="M1424.10,1091.45h3.6M1982.70,1091.45h-3.6" class="tk"/>
<text x="1420.90" y="1098.15" class="tl" text-anchor="end">0.15</text>
<text x="1985.10" y="1098.15" class="tl">0.15</text>
<path d="M1424.10,1056.00h3.6M1982.70,1056.00h-3.6" class="tk"/>
<text x="1420.90" y="1062.70" class="tl" text-anchor="end">0.20</text>
<text x="1985.10" y="1062.70" class="tl">0.20</text>
<path d="M1424.10,1020.55h3.6M1982.70,1020.55h-3.6" class="tk"/>
<text x="1420.90" y="1027.25" class="tl" text-anchor="end">0.25</text>
<text x="1985.10" y="1027.25" class="tl">0.25</text>
<path d="M1424.10,985.10h3.6M1982.70,985.10h-3.6" class="tk"/>
<text x="1420.90" y="991.80" class="tl" text-anchor="end">0.30</text>
<text x="1985.10" y="991.80" class="tl">0.30</text>
<path d="M1424.10,949.65h3.6M1982.70,949.65h-3.6" class="tk"/>
<text x="1420.90" y="956.35" class="tl" text-anchor="end">0.35</text>
<text x="1985.10" y="956.35" class="tl">0.35</text>
<path d="M1424.10,914.20h3.6M1982.70,914.20h-3.6" class="tk"/>
<text x="1420.90" y="920.90" class="tl" text-anchor="end">0.40</text>
<text x="1985.10" y="920.90" class="tl">0.40</text>
<path d="M1451.10,1249.30v-3.6" class="tk"/>
<text x="1450.80" y="1266.10" class="tl" text-anchor="end">0</text>
<path d="M1487.20,1249.30v-3.6" class="tk"/>
<text x="1486.90" y="1266.10" class="tl" text-anchor="end">2</text>
<path d="M1577.45,1249.30v-3.6" class="tk"/>
<text x="1577.15" y="1266.10" class="tl" text-anchor="end">7</text>
<path d="M1703.80,1249.30v-3.6" class="tk"/>
<text x="1703.50" y="1266.10" class="tl" text-anchor="end">14</text>
<path d="M1956.50,1249.30v-3.6" class="tk"/>
<text x="1956.20" y="1266.10" class="tl" text-anchor="end">28</text>
<text x="1762.00" y="936.20" class="kl">k</text>
<text transform="translate(1784.40,936.20) scale(1.07,0.71)" class="kl">=</text>
<text x="1810.80" y="936.20" class="kl">0.0737</text>
<text x="1917.00" y="936.20" class="kl">d</text>
<text x="1935.30" y="920.70" class="km">−</text>
<text x="1945.80" y="919.50" class="ks">1</text>
<g clip-path="url(#cp8)">
<path d="M1449.25,944.69h3.7M1451.10,944.69V947.52M1449.25,947.52h3.7" stroke="#0000FF" class="eb"/>
<path d="M1485.35,972.13h3.7M1487.20,972.13V992.12M1485.35,992.12h3.7" stroke="#0000FF" class="eb"/>
<path d="M1575.60,985.31h3.7M1577.45,985.31V994.53M1575.60,994.53h3.7" stroke="#0000FF" class="eb"/>
<path d="M1701.95,1134.77h3.7M1703.80,1134.77V1137.61M1701.95,1137.61h3.7" stroke="#0000FF" class="eb"/>
<path d="M1954.65,1164.48h3.7M1956.50,1164.48V1189.72M1954.65,1189.72h3.7" stroke="#0000FF" class="eb"/>
<path d="M1449.25,979.64h3.7" stroke="#0000FF" class="eb"/>
<circle cx="1451.10" cy="946.11" r="3.9" fill="#0000FF"/>
<circle cx="1487.20" cy="982.12" r="3.9" fill="#0000FF"/>
<circle cx="1577.45" cy="989.92" r="3.9" fill="#0000FF"/>
<circle cx="1703.80" cy="1136.19" r="3.9" fill="#0000FF"/>
<circle cx="1956.50" cy="1177.10" r="3.9" fill="#0000FF"/>
<polyline points="1451.10,936.68 1487.20,972.46 1577.45,1041.92 1703.80,1104.74 1956.50,1164.64" class="fit"/>
<path d="M1449.25,1164.26h3.7M1451.10,1164.26V1231.34M1449.25,1231.34h3.7" stroke="#FFA500" class="eb"/>
<path d="M1485.35,1151.93h3.7M1487.20,1151.93V1171.92M1485.35,1171.92h3.7" stroke="#FFA500" class="eb"/>
<path d="M1575.60,1150.23h3.7M1577.45,1150.23V1158.45M1575.60,1158.45h3.7" stroke="#FFA500" class="eb"/>
<path d="M1701.95,1006.37h3.7M1703.80,1006.37V1009.21M1701.95,1009.21h3.7" stroke="#FFA500" class="eb"/>
<path d="M1954.65,954.61h3.7M1956.50,954.61V979.85M1954.65,979.85h3.7" stroke="#FFA500" class="eb"/>
<polyline points="1451.10,1197.80 1487.20,1161.92 1577.45,1154.34 1703.80,1007.79 1956.50,967.23" class="oln"/>
<circle cx="1451.10" cy="1197.80" r="3.9" fill="#FFA500"/>
<circle cx="1487.20" cy="1161.92" r="3.9" fill="#FFA500"/>
<circle cx="1577.45" cy="1154.34" r="3.9" fill="#FFA500"/>
<circle cx="1703.80" cy="1007.79" r="3.9" fill="#FFA500"/>
<circle cx="1956.50" cy="967.23" r="3.9" fill="#FFA500"/>
</g>
<path d="M1827.60,1194.90h16" stroke="#FFA500" class="oln"/>
<circle cx="1835.60" cy="1194.90" r="3.9" fill="#FFA500"/>
<path d="M1827.60,1214.00h16" class="fit"/>
<circle cx="1835.60" cy="1233.50" r="3.9" fill="#0000FF"/>
<text x="1851.20" y="1202.00" class="lg">BWSOCt</text>
<text x="1851.20" y="1220.90" class="lg">Fitted curve</text>
<text x="1851.20" y="1240.80" class="lg">WSOC content</text>
<text x="363.95" y="1311.60" class="ttl" text-anchor="middle">220-250 cm</text>
<line x1="84.50" y1="1325.70" x2="643.40" y2="1325.70" class="top"/>
<path d="M84.50,1325.70V1640.00H643.40V1325.70" class="ax"/>
<path d="M643.40,1325.70V1640.00" class="axr"/>
<path d="M84.50,1594.10h3.6M643.40,1594.10h-3.6" class="tk"/>
<text x="81.30" y="1600.80" class="tl" text-anchor="end">0.00</text>
<text x="645.80" y="1600.80" class="tl">0.00</text>
<path d="M84.50,1562.36h3.6M643.40,1562.36h-3.6" class="tk"/>
<text x="81.30" y="1569.06" class="tl" text-anchor="end">0.05</text>
<text x="645.80" y="1569.06" class="tl">0.05</text>
<path d="M84.50,1530.62h3.6M643.40,1530.62h-3.6" class="tk"/>
<text x="81.30" y="1537.33" class="tl" text-anchor="end">0.10</text>
<text x="645.80" y="1537.33" class="tl">0.10</text>
<path d="M84.50,1498.89h3.6M643.40,1498.89h-3.6" class="tk"/>
<text x="81.30" y="1505.59" class="tl" text-anchor="end">0.15</text>
<text x="645.80" y="1505.59" class="tl">0.15</text>
<path d="M84.50,1467.15h3.6M643.40,1467.15h-3.6" class="tk"/>
<text x="81.30" y="1473.85" class="tl" text-anchor="end">0.20</text>
<text x="645.80" y="1473.85" class="tl">0.20</text>
<path d="M84.50,1435.41h3.6M643.40,1435.41h-3.6" class="tk"/>
<text x="81.30" y="1442.11" class="tl" text-anchor="end">0.25</text>
<text x="645.80" y="1442.11" class="tl">0.25</text>
<path d="M84.50,1403.67h3.6M643.40,1403.67h-3.6" class="tk"/>
<text x="81.30" y="1410.38" class="tl" text-anchor="end">0.30</text>
<text x="645.80" y="1410.38" class="tl">0.30</text>
<path d="M84.50,1371.94h3.6M643.40,1371.94h-3.6" class="tk"/>
<text x="81.30" y="1378.64" class="tl" text-anchor="end">0.35</text>
<text x="645.80" y="1378.64" class="tl">0.35</text>
<path d="M84.50,1340.20h3.6M643.40,1340.20h-3.6" class="tk"/>
<text x="81.30" y="1346.90" class="tl" text-anchor="end">0.40</text>
<text x="645.80" y="1346.90" class="tl">0.40</text>
<path d="M111.50,1640.00v-3.6" class="tk"/>
<text x="111.20" y="1656.80" class="tl" text-anchor="end">0</text>
<path d="M147.58,1640.00v-3.6" class="tk"/>
<text x="147.28" y="1656.80" class="tl" text-anchor="end">2</text>
<path d="M237.78,1640.00v-3.6" class="tk"/>
<text x="237.48" y="1656.80" class="tl" text-anchor="end">7</text>
<path d="M364.06,1640.00v-3.6" class="tk"/>
<text x="363.76" y="1656.80" class="tl" text-anchor="end">14</text>
<path d="M616.62,1640.00v-3.6" class="tk"/>
<text x="616.32" y="1656.80" class="tl" text-anchor="end">28</text>
<text x="422.70" y="1363.60" class="kl">k</text>
<text transform="translate(445.10,1363.60) scale(1.07,0.71)" class="kl">=</text>
<text x="471.50" y="1363.60" class="kl">0.0863</text>
<text x="577.70" y="1363.60" class="kl">d</text>
<text x="596.00" y="1348.10" class="km">−</text>
<text x="606.50" y="1346.90" class="ks">1</text>
<g clip-path="url(#cp9)">
<path d="M109.65,1394.34h3.7M111.50,1394.34V1420.88M109.65,1420.88h3.7" stroke="#0000FF" class="eb"/>
<path d="M145.73,1441.63h3.7M147.58,1441.63V1477.69M145.73,1477.69h3.7" stroke="#0000FF" class="eb"/>
<path d="M235.93,1507.14h3.7M237.78,1507.14V1521.74M235.93,1521.74h3.7" stroke="#0000FF" class="eb"/>
<path d="M362.21,1542.69h3.7M364.06,1542.69V1545.22M362.21,1545.22h3.7" stroke="#0000FF" class="eb"/>
<path d="M614.77,1544.84h3.7M616.62,1544.84V1547.38M614.77,1547.38h3.7" stroke="#0000FF" class="eb"/>
<circle cx="111.50" cy="1407.61" r="3.9" fill="#0000FF"/>
<circle cx="147.58" cy="1459.66" r="3.9" fill="#0000FF"/>
<circle cx="237.78" cy="1514.44" r="3.9" fill="#0000FF"/>
<circle cx="364.06" cy="1543.95" r="3.9" fill="#0000FF"/>
<circle cx="616.62" cy="1546.11" r="3.9" fill="#0000FF"/>
<polyline points="111.50,1422.53 147.58,1449.73 237.78,1500.32 364.06,1542.85 616.62,1578.79" class="fit"/>
<path d="M109.65,1580.77h3.7M111.50,1580.77V1607.43M109.65,1607.43h3.7" stroke="#FFA500" class="eb"/>
<path d="M145.73,1523.90h3.7M147.58,1523.90V1559.70M145.73,1559.70h3.7" stroke="#FFA500" class="eb"/>
<path d="M235.93,1480.29h3.7M237.78,1480.29V1494.89M235.93,1494.89h3.7" stroke="#FFA500" class="eb"/>
<path d="M362.21,1455.98h3.7M364.06,1455.98V1458.52M362.21,1458.52h3.7" stroke="#FFA500" class="eb"/>
<path d="M614.77,1454.33h3.7M616.62,1454.33V1456.87M614.77,1456.87h3.7" stroke="#FFA500" class="eb"/>
<polyline points="111.50,1594.10 147.58,1541.80 237.78,1487.59 364.06,1457.25 616.62,1455.60" class="oln"/>
<circle cx="111.50" cy="1594.10" r="3.9" fill="#FFA500"/>
<circle cx="147.58" cy="1541.80" r="3.9" fill="#FFA500"/>
<circle cx="237.78" cy="1487.59" r="3.9" fill="#FFA500"/>
<circle cx="364.06" cy="1457.25" r="3.9" fill="#FFA500"/>
<circle cx="616.62" cy="1455.60" r="3.9" fill="#FFA500"/>
</g>
<path d="M488.30,1585.60h16" stroke="#FFA500" class="oln"/>
<circle cx="496.30" cy="1585.60" r="3.9" fill="#FFA500"/>
<path d="M488.30,1604.70h16" class="fit"/>
<circle cx="496.30" cy="1624.20" r="3.9" fill="#0000FF"/>
<text x="511.90" y="1592.70" class="lg">BWSOCt</text>
<text x="511.90" y="1611.60" class="lg">Fitted curve</text>
<text x="511.90" y="1631.50" class="lg">WSOC content</text>
<text x="1034.10" y="1311.60" class="ttl" text-anchor="middle">420-450 cm</text>
<line x1="731.50" y1="1325.70" x2="1336.70" y2="1325.70" class="top"/>
<path d="M731.50,1325.70V1640.00H1336.70V1325.70" class="ax"/>
<path d="M1336.70,1325.70V1640.00" class="axr"/>
<path d="M731.50,1594.10h3.6M1336.70,1594.10h-3.6" class="tk"/>
<text x="728.30" y="1600.80" class="tl" text-anchor="end">0.00</text>
<text x="1339.10" y="1600.80" class="tl">0.00</text>
<path d="M731.50,1562.36h3.6M1336.70,1562.36h-3.6" class="tk"/>
<text x="728.30" y="1569.06" class="tl" text-anchor="end">0.05</text>
<text x="1339.10" y="1569.06" class="tl">0.05</text>
<path d="M731.50,1530.62h3.6M1336.70,1530.62h-3.6" class="tk"/>
<text x="728.30" y="1537.33" class="tl" text-anchor="end">0.10</text>
<text x="1339.10" y="1537.33" class="tl">0.10</text>
<path d="M731.50,1498.89h3.6M1336.70,1498.89h-3.6" class="tk"/>
<text x="728.30" y="1505.59" class="tl" text-anchor="end">0.15</text>
<text x="1339.10" y="1505.59" class="tl">0.15</text>
<path d="M731.50,1467.15h3.6M1336.70,1467.15h-3.6" class="tk"/>
<text x="728.30" y="1473.85" class="tl" text-anchor="end">0.20</text>
<text x="1339.10" y="1473.85" class="tl">0.20</text>
<path d="M731.50,1435.41h3.6M1336.70,1435.41h-3.6" class="tk"/>
<text x="728.30" y="1442.11" class="tl" text-anchor="end">0.25</text>
<text x="1339.10" y="1442.11" class="tl">0.25</text>
<path d="M731.50,1403.67h3.6M1336.70,1403.67h-3.6" class="tk"/>
<text x="728.30" y="1410.38" class="tl" text-anchor="end">0.30</text>
<text x="1339.10" y="1410.38" class="tl">0.30</text>
<path d="M731.50,1371.94h3.6M1336.70,1371.94h-3.6" class="tk"/>
<text x="728.30" y="1378.64" class="tl" text-anchor="end">0.35</text>
<text x="1339.10" y="1378.64" class="tl">0.35</text>
<path d="M731.50,1340.20h3.6M1336.70,1340.20h-3.6" class="tk"/>
<text x="728.30" y="1346.90" class="tl" text-anchor="end">0.40</text>
<text x="1339.10" y="1346.90" class="tl">0.40</text>
<path d="M760.80,1640.00v-3.6" class="tk"/>
<text x="760.50" y="1656.80" class="tl" text-anchor="end">0</text>
<path d="M799.86,1640.00v-3.6" class="tk"/>
<text x="799.56" y="1656.80" class="tl" text-anchor="end">2</text>
<path d="M897.51,1640.00v-3.6" class="tk"/>
<text x="897.21" y="1656.80" class="tl" text-anchor="end">7</text>
<path d="M1034.22,1640.00v-3.6" class="tk"/>
<text x="1033.92" y="1656.80" class="tl" text-anchor="end">14</text>
<path d="M1307.64,1640.00v-3.6" class="tk"/>
<text x="1307.34" y="1656.80" class="tl" text-anchor="end">28</text>
<text x="1116.00" y="1363.60" class="kl">k</text>
<text transform="translate(1138.40,1363.60) scale(1.07,0.71)" class="kl">=</text>
<text x="1164.80" y="1363.60" class="kl">0.0712</text>
<text x="1271.00" y="1363.60" class="kl">d</text>
<text x="1289.30" y="1348.10" class="km">−</text>
<text x="1299.80" y="1346.90" class="ks">1</text>
<g clip-path="url(#cp10)">
<path d="M758.95,1505.81h3.7M760.80,1505.81V1523.58M758.95,1523.58h3.7" stroke="#0000FF" class="eb"/>
<path d="M798.01,1488.99h3.7M799.86,1488.99V1555.63M798.01,1555.63h3.7" stroke="#0000FF" class="eb"/>
<path d="M895.66,1551.25h3.7M897.51,1551.25V1553.79M895.66,1553.79h3.7" stroke="#0000FF" class="eb"/>
<path d="M1032.37,1551.76h3.7M1034.22,1551.76V1573.34M1032.37,1573.34h3.7" stroke="#0000FF" class="eb"/>
<path d="M1305.79,1577.72h3.7M1307.64,1577.72V1580.26M1305.79,1580.26h3.7" stroke="#0000FF" class="eb"/>
<circle cx="760.80" cy="1514.69" r="3.9" fill="#0000FF"/>
<circle cx="799.86" cy="1522.31" r="3.9" fill="#0000FF"/>
<circle cx="897.51" cy="1552.52" r="3.9" fill="#0000FF"/>
<circle cx="1034.22" cy="1562.55" r="3.9" fill="#0000FF"/>
<circle cx="1307.64" cy="1578.99" r="3.9" fill="#0000FF"/>
<polyline points="760.80,1516.22 799.86,1526.55 897.51,1546.79 1034.22,1565.36 1307.64,1583.49" class="fit"/>
<path d="M758.95,1585.40h3.7M760.80,1585.40V1602.80M758.95,1602.80h3.7" stroke="#FFA500" class="eb"/>
<path d="M798.01,1552.65h3.7M799.86,1552.65V1619.30M798.01,1619.30h3.7" stroke="#FFA500" class="eb"/>
<path d="M895.66,1554.49h3.7M897.51,1554.49V1557.03M895.66,1557.03h3.7" stroke="#FFA500" class="eb"/>
<path d="M1032.37,1534.81h3.7M1034.22,1534.81V1558.05M1032.37,1558.05h3.7" stroke="#FFA500" class="eb"/>
<path d="M1305.79,1527.51h3.7M1307.64,1527.51V1530.05M1305.79,1530.05h3.7" stroke="#FFA500" class="eb"/>
<polyline points="760.80,1594.10 799.86,1585.98 897.51,1555.76 1034.22,1546.43 1307.64,1528.78" class="oln"/>
<circle cx="760.80" cy="1594.10" r="3.9" fill="#FFA500"/>
<circle cx="799.86" cy="1585.98" r="3.9" fill="#FFA500"/>
<circle cx="897.51" cy="1555.76" r="3.9" fill="#FFA500"/>
<circle cx="1034.22" cy="1546.43" r="3.9" fill="#FFA500"/>
<circle cx="1307.64" cy="1528.78" r="3.9" fill="#FFA500"/>
</g>
<path d="M1181.60,1585.60h16" stroke="#FFA500" class="oln"/>
<circle cx="1189.60" cy="1585.60" r="3.9" fill="#FFA500"/>
<path d="M1181.60,1604.70h16" class="fit"/>
<circle cx="1189.60" cy="1624.20" r="3.9" fill="#0000FF"/>
<text x="1205.20" y="1592.70" class="lg">BWSOCt</text>
<text x="1205.20" y="1611.60" class="lg">Fitted curve</text>
<text x="1205.20" y="1631.50" class="lg">WSOC content</text>
<text x="1703.40" y="1311.60" class="ttl" text-anchor="middle">700-740 cm</text>
<line x1="1424.10" y1="1325.70" x2="1982.70" y2="1325.70" class="top"/>
<path d="M1424.10,1325.70V1640.00H1982.70V1325.70" class="ax"/>
<path d="M1982.70,1325.70V1640.00" class="axr"/>
<path d="M1424.10,1594.10h3.6M1982.70,1594.10h-3.6" class="tk"/>
<text x="1420.90" y="1600.80" class="tl" text-anchor="end">0.00</text>
<text x="1985.10" y="1600.80" class="tl">0.00</text>
<path d="M1424.10,1562.36h3.6M1982.70,1562.36h-3.6" class="tk"/>
<text x="1420.90" y="1569.06" class="tl" text-anchor="end">0.05</text>
<text x="1985.10" y="1569.06" class="tl">0.05</text>
<path d="M1424.10,1530.62h3.6M1982.70,1530.62h-3.6" class="tk"/>
<text x="1420.90" y="1537.33" class="tl" text-anchor="end">0.10</text>
<text x="1985.10" y="1537.33" class="tl">0.10</text>
<path d="M1424.10,1498.89h3.6M1982.70,1498.89h-3.6" class="tk"/>
<text x="1420.90" y="1505.59" class="tl" text-anchor="end">0.15</text>
<text x="1985.10" y="1505.59" class="tl">0.15</text>
<path d="M1424.10,1467.15h3.6M1982.70,1467.15h-3.6" class="tk"/>
<text x="1420.90" y="1473.85" class="tl" text-anchor="end">0.20</text>
<text x="1985.10" y="1473.85" class="tl">0.20</text>
<path d="M1424.10,1435.41h3.6M1982.70,1435.41h-3.6" class="tk"/>
<text x="1420.90" y="1442.11" class="tl" text-anchor="end">0.25</text>
<text x="1985.10" y="1442.11" class="tl">0.25</text>
<path d="M1424.10,1403.67h3.6M1982.70,1403.67h-3.6" class="tk"/>
<text x="1420.90" y="1410.38" class="tl" text-anchor="end">0.30</text>
<text x="1985.10" y="1410.38" class="tl">0.30</text>
<path d="M1424.10,1371.94h3.6M1982.70,1371.94h-3.6" class="tk"/>
<text x="1420.90" y="1378.64" class="tl" text-anchor="end">0.35</text>
<text x="1985.10" y="1378.64" class="tl">0.35</text>
<path d="M1424.10,1340.20h3.6M1982.70,1340.20h-3.6" class="tk"/>
<text x="1420.90" y="1346.90" class="tl" text-anchor="end">0.40</text>
<text x="1985.10" y="1346.90" class="tl">0.40</text>
<path d="M1451.10,1640.00v-3.6" class="tk"/>
<text x="1450.80" y="1656.80" class="tl" text-anchor="end">0</text>
<path d="M1487.20,1640.00v-3.6" class="tk"/>
<text x="1486.90" y="1656.80" class="tl" text-anchor="end">2</text>
<path d="M1577.45,1640.00v-3.6" class="tk"/>
<text x="1577.15" y="1656.80" class="tl" text-anchor="end">7</text>
<path d="M1703.80,1640.00v-3.6" class="tk"/>
<text x="1703.50" y="1656.80" class="tl" text-anchor="end">14</text>
<path d="M1956.50,1640.00v-3.6" class="tk"/>
<text x="1956.20" y="1656.80" class="tl" text-anchor="end">28</text>
<text x="1762.00" y="1363.60" class="kl">k</text>
<text transform="translate(1784.40,1363.60) scale(1.07,0.71)" class="kl">=</text>
<text x="1810.80" y="1363.60" class="kl">0.0681</text>
<text x="1917.00" y="1363.60" class="kl">d</text>
<text x="1935.30" y="1348.10" class="km">−</text>
<text x="1945.80" y="1346.90" class="ks">1</text>
<g clip-path="url(#cp11)">
<path d="M1449.25,1485.24h3.7M1451.10,1485.24V1534.75M1449.25,1534.75h3.7" stroke="#0000FF" class="eb"/>
<path d="M1485.35,1535.20h3.7M1487.20,1535.20V1554.62M1485.35,1554.62h3.7" stroke="#0000FF" class="eb"/>
<path d="M1575.60,1545.80h3.7M1577.45,1545.80V1548.33M1575.60,1548.33h3.7" stroke="#0000FF" class="eb"/>
<path d="M1701.95,1553.79h3.7M1703.80,1553.79V1569.03M1701.95,1569.03h3.7" stroke="#0000FF" class="eb"/>
<path d="M1954.65,1582.61h3.7M1956.50,1582.61V1585.15M1954.65,1585.15h3.7" stroke="#0000FF" class="eb"/>
<circle cx="1451.10" cy="1510.00" r="3.9" fill="#0000FF"/>
<circle cx="1487.20" cy="1544.91" r="3.9" fill="#0000FF"/>
<circle cx="1577.45" cy="1547.07" r="3.9" fill="#0000FF"/>
<circle cx="1703.80" cy="1561.41" r="3.9" fill="#0000FF"/>
<circle cx="1956.50" cy="1583.88" r="3.9" fill="#0000FF"/>
<polyline points="1451.10,1520.53 1487.20,1529.90 1577.45,1548.43 1703.80,1565.74 1956.50,1583.17" class="fit"/>
<path d="M1449.25,1569.34h3.7M1451.10,1569.34V1618.86M1449.25,1618.86h3.7" stroke="#FFA500" class="eb"/>
<path d="M1485.35,1548.40h3.7M1487.20,1548.40V1567.95M1485.35,1567.95h3.7" stroke="#FFA500" class="eb"/>
<path d="M1575.60,1555.82h3.7M1577.45,1555.82V1558.36M1575.60,1558.36h3.7" stroke="#FFA500" class="eb"/>
<path d="M1701.95,1534.43h3.7M1703.80,1534.43V1549.41M1701.95,1549.41h3.7" stroke="#FFA500" class="eb"/>
<path d="M1954.65,1518.76h3.7M1956.50,1518.76V1521.29M1954.65,1521.29h3.7" stroke="#FFA500" class="eb"/>
<polyline points="1451.10,1594.10 1487.20,1558.17 1577.45,1557.09 1703.80,1541.92 1956.50,1520.02" class="oln"/>
<circle cx="1451.10" cy="1594.10" r="3.9" fill="#FFA500"/>
<circle cx="1487.20" cy="1558.17" r="3.9" fill="#FFA500"/>
<circle cx="1577.45" cy="1557.09" r="3.9" fill="#FFA500"/>
<circle cx="1703.80" cy="1541.92" r="3.9" fill="#FFA500"/>
<circle cx="1956.50" cy="1520.02" r="3.9" fill="#FFA500"/>
</g>
<path d="M1827.60,1585.60h16" stroke="#FFA500" class="oln"/>
<circle cx="1835.60" cy="1585.60" r="3.9" fill="#FFA500"/>
<path d="M1827.60,1604.70h16" class="fit"/>
<circle cx="1835.60" cy="1624.20" r="3.9" fill="#0000FF"/>
<text x="1851.20" y="1592.70" class="lg">BWSOCt</text>
<text x="1851.20" y="1611.60" class="lg">Fitted curve</text>
<text x="1851.20" y="1631.50" class="lg">WSOC content</text>
<g transform="translate(30.7,219.25) rotate(-90)"><text x="-149.7" y="0" class="yt">WSOC content</text><text x="50.6" y="0" class="par">(</text><text x="63.2" y="0" class="yg">g kg</text><text x="115.4" y="-12.95" class="sm">−</text><text x="125.75" y="-15" class="sup">1</text><text x="138.2" y="0" class="par">)</text></g>
<g transform="translate(2036.4,219.25) rotate(90)"><text x="-113.9" y="0" class="yt2">BWSOCt</text><text x="12.9" y="0" class="par">(</text><text x="25.9" y="0" class="yg">g kg</text><text x="78.2" y="-13.3" class="sm">−</text><text x="87.75" y="-15.3" class="sup">1</text><text x="100.5" y="0" class="par">)</text></g>
<g transform="translate(30.7,646.60) rotate(-90)"><text x="-149.7" y="0" class="yt">WSOC content</text><text x="50.6" y="0" class="par">(</text><text x="63.2" y="0" class="yg">g kg</text><text x="115.4" y="-12.95" class="sm">−</text><text x="125.75" y="-15" class="sup">1</text><text x="138.2" y="0" class="par">)</text></g>
<g transform="translate(2036.4,646.60) rotate(90)"><text x="-113.9" y="0" class="yt2">BWSOCt</text><text x="12.9" y="0" class="par">(</text><text x="25.9" y="0" class="yg">g kg</text><text x="78.2" y="-13.3" class="sm">−</text><text x="87.75" y="-15.3" class="sup">1</text><text x="100.5" y="0" class="par">)</text></g>
<g transform="translate(30.7,1073.80) rotate(-90)"><text x="-149.7" y="0" class="yt">WSOC content</text><text x="50.6" y="0" class="par">(</text><text x="63.2" y="0" class="yg">g kg</text><text x="115.4" y="-12.95" class="sm">−</text><text x="125.75" y="-15" class="sup">1</text><text x="138.2" y="0" class="par">)</text></g>
<g transform="translate(2036.4,1073.80) rotate(90)"><text x="-113.9" y="0" class="yt2">BWSOCt</text><text x="12.9" y="0" class="par">(</text><text x="25.9" y="0" class="yg">g kg</text><text x="78.2" y="-13.3" class="sm">−</text><text x="87.75" y="-15.3" class="sup">1</text><text x="100.5" y="0" class="par">)</text></g>
<g transform="translate(30.7,1482.85) rotate(-90)"><text x="-149.7" y="0" class="yt">WSOC content</text><text x="50.6" y="0" class="par">(</text><text x="63.2" y="0" class="yg">g kg</text><text x="115.4" y="-12.95" class="sm">−</text><text x="125.75" y="-15" class="sup">1</text><text x="138.2" y="0" class="par">)</text></g>
<g transform="translate(2036.4,1482.85) rotate(90)"><text x="-113.9" y="0" class="yt2">BWSOCt</text><text x="12.9" y="0" class="par">(</text><text x="25.9" y="0" class="yg">g kg</text><text x="78.2" y="-13.3" class="sm">−</text><text x="87.75" y="-15.3" class="sup">1</text><text x="100.5" y="0" class="par">)</text></g>
<text x="194.95" y="1690.0" class="xt">Incubation time (day)</text>
<text x="865.10" y="1690.0" class="xt">Incubation time (day)</text>
<text x="1534.40" y="1690.0" class="xt">Incubation time (day)</text>
</svg>
</body></html>
